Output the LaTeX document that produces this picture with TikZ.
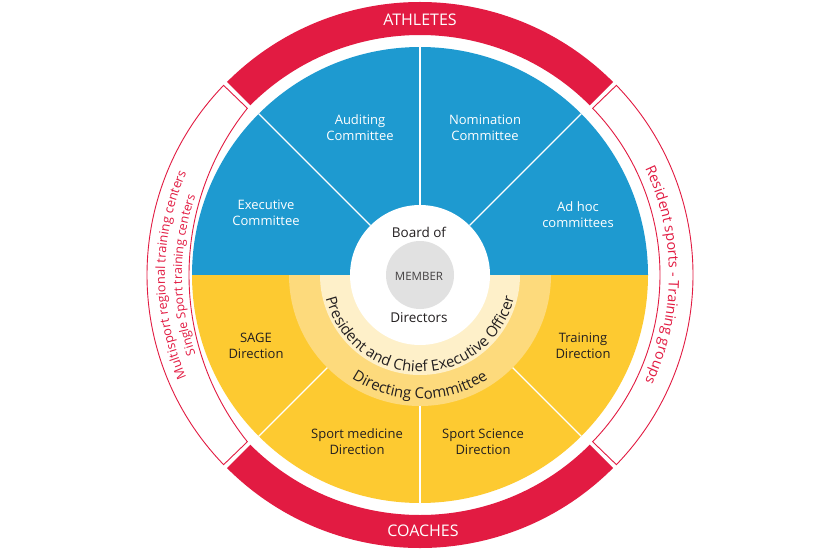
\documentclass[tikz,border=0pt]{standalone}
\usepackage{fontspec}
\setmainfont{Open Sans}
\usetikzlibrary{decorations.text}
\definecolor{redc}{HTML}{E21B42}
\definecolor{bluec}{HTML}{1E9AD0}
\definecolor{yelc}{HTML}{FDCA31}
\definecolor{ringa}{HTML}{FDDA7C}
\definecolor{ringb}{HTML}{FEF0C9}
\definecolor{grayc}{HTML}{E1E1E1}
\definecolor{darkc}{HTML}{231F20}
\tikzset{
  lblw/.style={font=\fontsize{13pt}{16pt}\selectfont, text=white, align=center, inner sep=0pt},
  lbld/.style={font=\fontsize{13pt}{16pt}\selectfont, text=darkc, align=center, inner sep=0pt},
  bandtxt/.style={font=\fontsize{16pt}{18pt}\selectfont, text=white, inner sep=0pt},
  divider/.style={draw=white, line width=1.3pt},
  sideband/.style={draw=redc, line width=0.9pt, fill=white}
}
\begin{document}
\begin{tikzpicture}[x=1pt,y=1pt]
\useasboundingbox (0,0) rectangle (840,550);
\fill[white] (0,0) rectangle (840,550);
\coordinate (C) at (420,275);
% red arcs
\fill[redc] ([shift={(45:273pt)}]C) arc[start angle=45,end angle=135,radius=273pt]
  -- ([shift={(135:240pt)}]C) arc[start angle=135,end angle=45,radius=240pt] -- cycle;
\fill[redc] ([shift={(225:273pt)}]C) arc[start angle=225,end angle=315,radius=273pt]
  -- ([shift={(315:240pt)}]C) arc[start angle=315,end angle=225,radius=240pt] -- cycle;
% side bands
\path[sideband] ([shift={(136:273pt)}]C) arc[start angle=136,end angle=224,radius=273pt]
  -- (247.36,108.28) arc[start angle=218.59,end angle=141.41,radius=267.3pt] -- cycle;
\path[sideband] ([shift={(-44:273pt)}]C) arc[start angle=-44,end angle=44,radius=273pt]
  -- ([shift={(44:240pt)}]C) arc[start angle=44,end angle=-44,radius=240pt] -- cycle;
% halves
\fill[bluec] (C) -- ++(0:228pt) arc[start angle=0,end angle=180,radius=228pt] -- cycle;
\fill[yelc] (C) -- ++(180:228pt) arc[start angle=180,end angle=360,radius=228pt] -- cycle;
\fill[ringa] (C) -- ++(180:131pt) arc[start angle=180,end angle=360,radius=131pt] -- cycle;
\fill[ringb] (C) -- ++(180:100pt) arc[start angle=180,end angle=360,radius=100pt] -- cycle;
% dividers
\foreach \a in {45,90,135} \draw[divider] ([shift={(\a:70pt)}]C) -- ([shift={(\a:228pt)}]C);
\foreach \a in {225,270,315} \draw[divider] ([shift={(\a:131pt)}]C) -- ([shift={(\a:228pt)}]C);
\fill[white] (C) circle[radius=70pt];
\fill[grayc] (C) circle[radius=34pt];
% texts
\node[font=\fontsize{11.5pt}{13pt}\selectfont, text=darkc!85, inner sep=0pt] (member) at (419,274) {MEMBER};
\node[font=\fontsize{13.5pt}{16pt}\selectfont, text=darkc, inner sep=0pt] (board) at (419,318) {Board of};
\node[font=\fontsize{13.5pt}{16pt}\selectfont, text=darkc, inner sep=0pt] (dirs) at (419,232) {Directors};
\node[bandtxt] (ath) at (420,530) {ATHLETES};
\node[bandtxt] (coach) at (423,19.5) {COACHES};
\node[lblw] (audit) at (360,422) {Auditing\\Committee};
\node[lblw] (nomin) at (485,422) {Nomination\\Committee};
\node[lblw] (exec) at (266,337) {Executive\\Committee};
\node[lblw] (adhoc) at (578,335) {Ad hoc\\committees};
\node[lbld] (sage) at (256,204) {SAGE\\Direction};
\node[lbld] (train) at (583,204) {Training\\Direction};
\node[lbld] (med) at (357,108) {Sport medicine\\Direction};
\node[lbld] (sci) at (483,108) {Sport Science\\Direction};
% curved texts
\path[decorate, decoration={text along path, text align=center,
  text={|\fontsize{12.8pt}{14pt}\selectfont\color{redc}|Multisport regional training centers}}]
  ([shift={(235:255pt)}]C) arc[start angle=235,end angle=125,radius=255pt];
\path[decorate, decoration={text along path, text align=center,
  text={|\fontsize{12.3pt}{14pt}\selectfont\color{redc}|Single Sport training centers}}]
  ([shift={(235:238pt)}]C) arc[start angle=235,end angle=125,radius=238pt];
\path[decorate, decoration={text along path, text align=center,
  text={|\fontsize{14.3pt}{16pt}\selectfont\color{redc}|Resident sports - Training groups}}]
  ([shift={(55:249pt)}]C) arc[start angle=55,end angle=-55,radius=249pt];
\path[decorate, decoration={text along path, text align=center,
  text={|\fontsize{15pt}{16pt}\selectfont\color{darkc}|President and Chief Executive Officer}}]
  ([shift={(170:97pt)}]C) arc[start angle=170,end angle=370,radius=97pt];
\path[decorate, decoration={text along path, text align=center,
  text={|\fontsize{15pt}{16pt}\selectfont\color{darkc}|Directing Committee}}]
  ([shift={(180:124pt)}]C) arc[start angle=180,end angle=360,radius=124pt];
\end{tikzpicture}
\end{document}
